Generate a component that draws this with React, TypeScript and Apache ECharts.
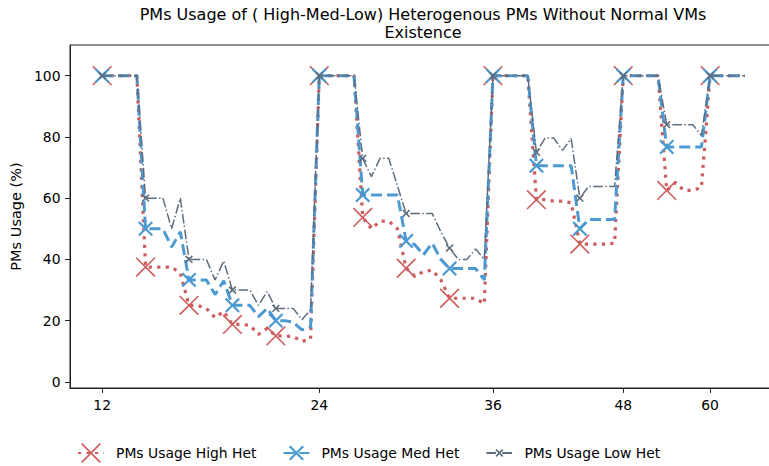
import React, { useEffect, useRef } from 'react';
import * as echarts from 'echarts';

// Sample index (x position) where each x tick label sits, and its label
const xTickIndex = [0, 25, 45, 60, 70];
const xTickLabels = ['12', '24', '36', '48', '60'];
const yTicks = [0, 20, 40, 60, 80, 100];
const markerEvery = 5;

const seriesNames = ['PMs Usage High Het', 'PMs Usage Med Het', 'PMs Usage Low Het'];

const highHet = [
  100, 100, 100, 100, 100,
  37.5, 37.5, 37.5, 37.5, 35.5,
  25, 25, 24, 21, 23,
  18.75, 18.75, 18.5, 15.5, 17.5,
  15, 15, 14.8, 13.2, 14,
  100, 100, 100, 100, 100,
  53.7, 50, 52.5, 52.5, 50,
  37.1, 34.5, 36, 36.5, 33.3,
  27.3, 27.3, 27.3, 27.3, 25.5,
  100, 100, 100, 100, 100,
  59.5, 59.5, 59, 59, 58.5,
  45, 45, 45, 45, 45.3,
  100, 100, 100, 100, 100,
  62.5, 65, 62.5, 62.5, 63.5,
  100, 100, 100, 100, 100,
];

const medHet = [
  100, 100, 100, 100, 100,
  50, 50, 50, 44, 49,
  33.3, 33.3, 33.3, 28.5, 33,
  25, 25, 25, 21.3, 24,
  20, 20, 19.5, 17, 18,
  100, 100, 100, 100, 100,
  61, 61, 61, 61, 61,
  46, 44.8, 41.5, 45.3, 40,
  37, 37, 37, 37, 33.3,
  100, 100, 100, 100, 100,
  70.6, 70.6, 70.6, 70.6, 70.6,
  50, 53, 53, 53, 53,
  100, 100, 100, 100, 100,
  76.7, 76.7, 76.7, 76.7, 76.7,
  100, 100, 100, 100, 100,
];

const lowHet = [
  100, 100, 100, 100, 100,
  60, 60, 60, 50, 60,
  40, 40, 40, 33.3, 39.5,
  30, 30, 30, 25, 29.5,
  24, 24, 24, 20.3, 23.5,
  100, 100, 100, 100, 100,
  73, 67, 73, 73, 64,
  55, 55, 55, 55, 49,
  43.7, 40, 40, 43.4, 40,
  100, 100, 100, 100, 100,
  75, 79.6, 79.6, 75.6, 79.4,
  60, 63.8, 63.8, 63.8, 63.8,
  100, 100, 100, 100, 100,
  84, 84, 84, 84, 80.4,
  100, 100, 100, 100, 100,
];

const FONT = "'DejaVu Sans', sans-serif";

// X-shaped marker inside a fixed 100x100 box (so all markers share a frame)
function xSymbol(h: number, w: number): string {
  const d = w / Math.SQRT2;
  const c = 50;
  const pts = [
    [c - h, c - h + d], [c - h + d, c - h], [c, c - d], [c + h - d, c - h],
    [c + h, c - h + d], [c + d, c], [c + h, c + h - d], [c + h - d, c + h],
    [c, c + d], [c - h + d, c + h], [c - h, c + h - d], [c - d, c],
  ];
  return 'path://M0 0M100 100M' + pts.map((p) => p[0].toFixed(2) + ' ' + p[1].toFixed(2)).join('L') + 'Z';
}

function toData(arr: number[]) {
  return arr.map((v, i) => (i % markerEvery === 0 ? { value: [i, v] } : { value: [i, v], symbol: 'none' }));
}

export default function App() {
  const ref = useRef<HTMLDivElement>(null);
  useEffect(() => {
    if (!ref.current) return;
    const chart = echarts.init(ref.current, undefined, { renderer: 'svg' });
    const styles = [
      { color: '#cd5c5c', width: 3.2, dash: [3.2, 5.3], sym: xSymbol(45, 7.3) },
      { color: '#4c9ad2', width: 3, dash: [11, 5], sym: xSymbol(34, 10) },
      { color: '#5d6d7e', width: 1.5, dash: [9.6, 2.4, 1.5, 2.4], sym: xSymbol(18, 7.3) },
    ];
    const datas = [highHet, medHet, lowHet];
    chart.setOption({
      animation: false,
      backgroundColor: '#fff',
      title: {
        text: 'PMs Usage of ( High-Med-Low) Heterogenous PMs Without Normal VMs\nExistence',
        left: 423,
        top: 6,
        padding: 0,
        textAlign: 'center',
        textStyle: { fontSize: 16, fontWeight: 'normal', color: '#000', lineHeight: 17.5, fontFamily: FONT },
      },
      grid: {
        left: 70, top: 45, right: -8, bottom: 78,
        outerBoundsMode: 'none', containLabel: false,
        show: true, borderColor: '#222', borderWidth: 1,
      },
      xAxis: {
        type: 'value',
        min: -3.7,
        max: 77.7,
        axisLine: { show: true, onZero: false, lineStyle: { color: '#222', width: 1 } },
        axisTick: { show: true, customValues: xTickIndex, length: 4.9, lineStyle: { color: '#222' } },
        axisLabel: {
          customValues: xTickIndex,
          formatter: (v: number) => {
            const k = xTickIndex.indexOf(Math.round(v));
            return k >= 0 ? xTickLabels[k] : '';
          },
          margin: 9.5,
          fontSize: 13.9,
          color: '#000',
          fontFamily: FONT,
        },
        splitLine: { show: false },
      },
      yAxis: {
        type: 'value',
        min: -2,
        max: 110,
        name: 'PMs Usage (%)',
        nameLocation: 'middle',
        nameGap: 41,
        nameTextStyle: { fontSize: 14.5, color: '#000', fontFamily: FONT },
        axisLine: { show: true, onZero: false, lineStyle: { color: '#222', width: 1 } },
        axisTick: { show: true, customValues: yTicks, length: 4.9, lineStyle: { color: '#222' } },
        axisLabel: { customValues: yTicks, margin: 9.5, fontSize: 13.9, color: '#000', fontFamily: FONT },
        splitLine: { show: false },
      },
      legend: {
        data: seriesNames,
        left: 77,
        top: 442,
        padding: 0,
        itemWidth: 26,
        itemHeight: 27.5,
        itemGap: 26,
        textStyle: { fontSize: 13.9, color: '#000', fontFamily: FONT, padding: [0, 0, 0, 7] },
      },
      series: seriesNames.map((name, s) => ({
        type: 'line',
        name,
        data: toData(datas[s]),
        color: styles[s].color,
        symbol: styles[s].sym,
        symbolSize: 22,
        showAllSymbol: true,
        lineStyle: { color: styles[s].color, width: styles[s].width, type: styles[s].dash, cap: 'butt' },
        itemStyle: { color: styles[s].color },
        emphasis: { disabled: true },
        z: 2 + s,
      })),
    });
    return () => chart.dispose();
  }, []);
  return <div ref={ref} style={{ position: 'absolute', left: 0, top: 0, width: 769, height: 466 }} />;
}
